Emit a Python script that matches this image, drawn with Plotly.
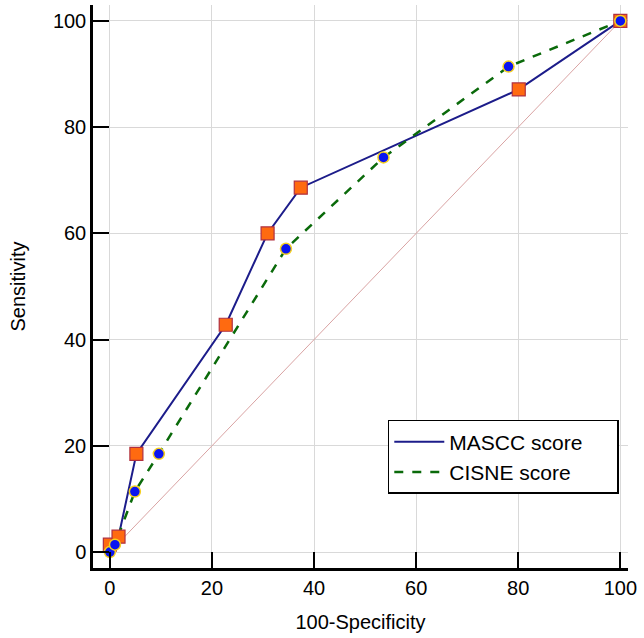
import plotly.graph_objects as go

mascc_x = [0, 1.7, 5.2, 22.7, 30.9, 37.4, 80.1, 100]
mascc_y = [1.4, 2.9, 18.5, 42.8, 60.0, 68.6, 87.1, 100]
cisne_x = [0, 1.0, 4.9, 9.6, 34.5, 53.6, 78.1, 100]
cisne_y = [0, 1.4, 11.4, 18.5, 57.1, 74.3, 91.4, 100]
diag = [0, 100]
ticks = [0, 20, 40, 60, 80, 100]
pad = "\u00a0" * 5

fig = go.Figure()
fig.add_trace(go.Scatter(x=diag, y=diag, mode="lines",
                         line=dict(color="#d9a3a3", width=1), showlegend=False, hoverinfo="skip"))
fig.add_trace(go.Scatter(x=mascc_x, y=mascc_y, mode="lines", name="MASCC score" + pad,
                         line=dict(color="#1c1c8a", width=2)))
fig.add_trace(go.Scatter(x=cisne_x, y=cisne_y, mode="lines", name="CISNE score" + pad,
                         line=dict(color="#0a6a0a", width=2.5, dash="dash")))
fig.add_trace(go.Scatter(x=mascc_x, y=mascc_y, mode="markers", showlegend=False,
                         marker=dict(symbol="square", size=13, color="#ff6a10",
                                     line=dict(color="#b03040", width=1.2))))
fig.add_trace(go.Scatter(x=cisne_x, y=cisne_y, mode="markers", showlegend=False,
                         marker=dict(symbol="circle", size=11, color="#0a14f0",
                                     line=dict(color="#f5d020", width=1.5))))

axis_common = dict(
    showline=True, linecolor="black", linewidth=2.5, mirror=False,
    ticks="inside", ticklen=16, tickwidth=2, tickcolor="black",
    showgrid=True, gridcolor="#d9d9d9", gridwidth=1, zeroline=False,
    tickvals=ticks, tickfont=dict(size=20, color="black"),
)
fig.update_xaxes(range=[-3.3, 101.5],
                 title=dict(text="100-Specificity", font=dict(size=20, color="black"), standoff=18),
                 **axis_common)
fig.update_yaxes(range=[-3.0, 103.0],
                 title=dict(text="Sensitivity", font=dict(size=20, color="black"), standoff=22),
                 **axis_common)

fig.update_layout(
    width=644, height=638,
    margin=dict(l=93, r=16, t=5, b=70),
    plot_bgcolor="white", paper_bgcolor="white",
    font=dict(family="Liberation Sans, Arial, sans-serif", color="black"),
    legend=dict(x=0.551, y=0.2629, xanchor="left", yanchor="top",
                bordercolor="black", borderwidth=1.5, bgcolor="white",
                font=dict(size=21, color="black"), tracegroupgap=0,
                itemwidth=50),
)
fig.write_html("out.html", config={"displayModeBar": False},
               post_script="document.body.style.margin='0px';")
